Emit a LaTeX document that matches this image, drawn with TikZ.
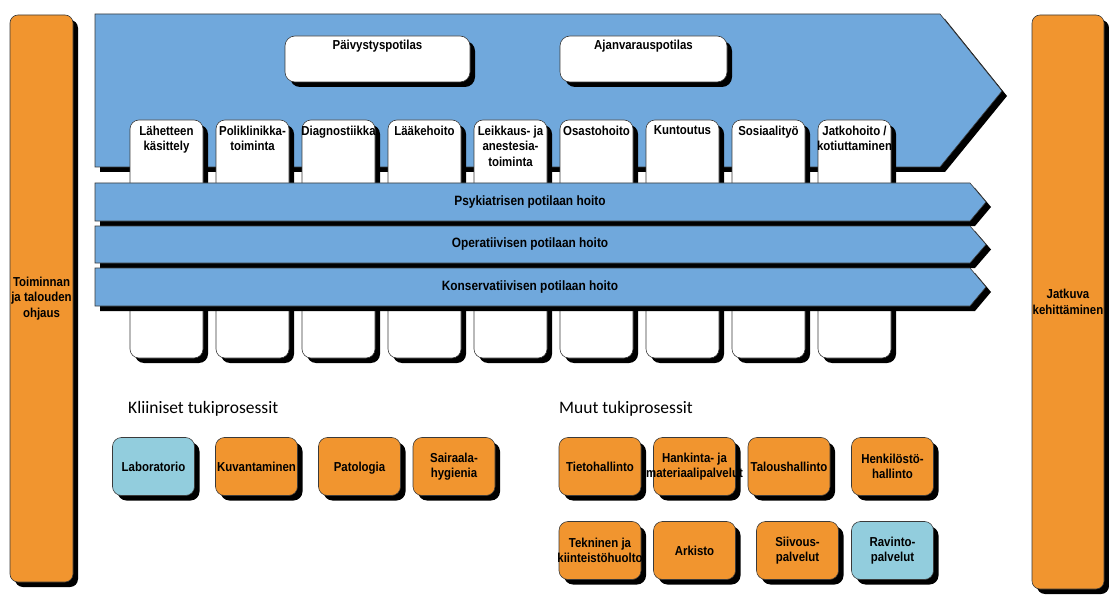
\documentclass[tikz,border=0pt]{standalone}
\usepackage{fontspec}
\setmainfont{Liberation Sans}
\newfontfamily\boxfont{Liberation Sans}[FakeStretch=0.88]
\newfontfamily\headfont{Carlito}
\usetikzlibrary{shadows}
\definecolor{procorange}{HTML}{F1952F}
\definecolor{flowblue}{HTML}{70A8DC}
\definecolor{supportblue}{HTML}{92CDDD}
\definecolor{edgegray}{HTML}{3A3A3A}
\tikzset{
  outline/.style={draw=edgegray, line width=0.6pt},
  sh/.style={drop shadow={shadow xshift=5pt, shadow yshift=-5pt, fill=black, opacity=1}},
  lbl/.style={font=\boxfont\bfseries\fontsize{13}{15.5}\selectfont, align=center, inner sep=0pt, text=black},
  onelbl/.style={lbl, text height=9.5pt, text depth=0pt},
  bandlbl/.style={font=\boxfont\bfseries\fontsize{13.5}{16}\selectfont, inner sep=0pt, text=black},
  head/.style={font=\headfont\fontsize{17.5}{20}\selectfont, inner sep=0pt, anchor=base west},
  bar/.style={outline, sh, fill=procorange, rounded corners=8pt, minimum width=63pt, inner sep=0pt, lbl},
  topbox/.style={outline, sh, fill=white, rounded corners=10pt, minimum height=46pt, inner sep=0pt},
  colbox/.style={outline, sh, fill=white, rounded corners=9pt, minimum width=73pt, minimum height=238pt, inner sep=0pt},
  supbox/.style={outline, sh, rounded corners=9pt, minimum width=82pt, minimum height=58pt, inner sep=0pt},
  band/.style={outline, sh, fill=flowblue},
}
\begin{document}
\begin{tikzpicture}[x=1pt, y=-1pt]
\useasboundingbox (0,0) rectangle (1109,599);

% side bars
\node[bar, minimum height=567pt] (ohjaus) at (41.5,298.5) {Toiminnan\\ja talouden\\ohjaus};
\node[bar, minimum width=72pt, minimum height=574pt] (kehitys) at (1068,302) {Jatkuva\\kehittäminen};

% main process arrow
\path[band] (95,14) -- (940,14) -- (1002,91) -- (940,167) -- (95,167) -- cycle;

% patient types
\node[topbox, minimum width=185pt] (paivystys) at (377.5,59) {};
\node[lbl, anchor=north] (t-paivystys) at (377.5,40) {Päivystyspotilas};
\node[topbox, minimum width=167pt] (ajanvaraus) at (643.5,59) {};
\node[lbl, anchor=north] (t-ajanvaraus) at (643.5,40) {Ajanvarauspotilas};

% care process columns
\node[colbox] (c1) at (166.5,239) {};
\node[colbox] (c2) at (252.5,239) {};
\node[colbox] (c3) at (338.5,239) {};
\node[colbox] (c4) at (424.5,239) {};
\node[colbox] (c5) at (510.5,239) {};
\node[colbox] (c6) at (596.5,239) {};
\node[colbox] (c7) at (682.5,239) {};
\node[colbox] (c8) at (768.5,239) {};
\node[colbox] (c9) at (854.5,239) {};
\node[lbl, anchor=north] (t1) at (166.5,125.5) {Lähetteen\\käsittely};
\node[lbl, anchor=north] (t2) at (252.5,125.5) {Poliklinikka-\\toiminta};
\node[lbl, anchor=north] (t3) at (338.5,125.5) {Diagnostiikka};
\node[lbl, anchor=north] (t4) at (424.5,125.5) {Lääkehoito};
\node[lbl, anchor=north] (t5) at (510.5,125.5) {Leikkaus- ja\\anestesia-\\toiminta};
\node[lbl, anchor=north] (t6) at (596.5,125.5) {Osastohoito};
\node[lbl, anchor=north] (t7) at (682.5,125.5) {Kuntoutus};
\node[lbl, anchor=north] (t8) at (768.5,125.5) {Sosiaalityö};
\node[lbl, anchor=north] (t9) at (854.5,125.5) {Jatkohoito /\\kotiuttaminen};

% patient group bands
\path[band] (95,183) -- (970,183) -- (986,202) -- (970,221) -- (95,221) -- cycle;
\node[bandlbl] (psyk) at (530,202) {Psykiatrisen potilaan hoito};
\path[band] (95,226) -- (970,226) -- (986,244.5) -- (970,263) -- (95,263) -- cycle;
\node[bandlbl] (oper) at (530,244.5) {Operatiivisen potilaan hoito};
\path[band] (95,268) -- (970,268) -- (986,287) -- (970,306) -- (95,306) -- cycle;
\node[bandlbl] (kons) at (530,287) {Konservatiivisen potilaan hoito};

% support processes
\node[head] (h-kliiniset) at (128,413) {Kliiniset tukiprosessit};
\node[head] (h-muut) at (559,413) {Muut tukiprosessit};

\node[supbox, fill=supportblue] (lab) at (153.5,466.5) {};
\node[onelbl] (t-lab) at (lab.center) {Laboratorio};
\node[supbox, fill=procorange] (kuva) at (256.5,466.5) {};
\node[onelbl] (t-kuva) at (kuva.center) {Kuvantaminen};
\node[supbox, fill=procorange] (pato) at (359.5,466.5) {};
\node[onelbl] (t-pato) at (pato.center) {Patologia};
\node[supbox, fill=procorange] (hyg) at (454,466.5) {};
\node[lbl] (t-hyg) at (hyg.center) {Sairaala-\\hygienia};

\node[supbox, fill=procorange] (tieto) at (600,466.5) {};
\node[onelbl] (t-tieto) at (tieto.center) {Tietohallinto};
\node[supbox, fill=procorange] (hank) at (694.5,466.5) {};
\node[lbl] (t-hank) at (hank.center) {Hankinta- ja\\materiaalipalvelut};
\node[supbox, fill=procorange] (talous) at (789,466.5) {};
\node[onelbl] (t-talous) at (talous.center) {Taloushallinto};
\node[supbox, fill=procorange] (henk) at (892.5,466.5) {};
\node[lbl] (t-henk) at (henk.center) {Henkilöstö-\\hallinto};

\node[supbox, fill=procorange] (tekn) at (600,550.5) {};
\node[lbl] (t-tekn) at (tekn.center) {Tekninen ja\\kiinteistöhuolto};
\node[supbox, fill=procorange] (ark) at (694.5,550.5) {};
\node[onelbl] (t-ark) at (ark.center) {Arkisto};
\node[supbox, fill=procorange] (siiv) at (797.5,550.5) {};
\node[lbl] (t-siiv) at (siiv.center) {Siivous-\\palvelut};
\node[supbox, fill=supportblue] (ravinto) at (892.5,550.5) {};
\node[lbl] (t-ravinto) at (ravinto.center) {Ravinto-\\palvelut};
\end{tikzpicture}
\end{document}
